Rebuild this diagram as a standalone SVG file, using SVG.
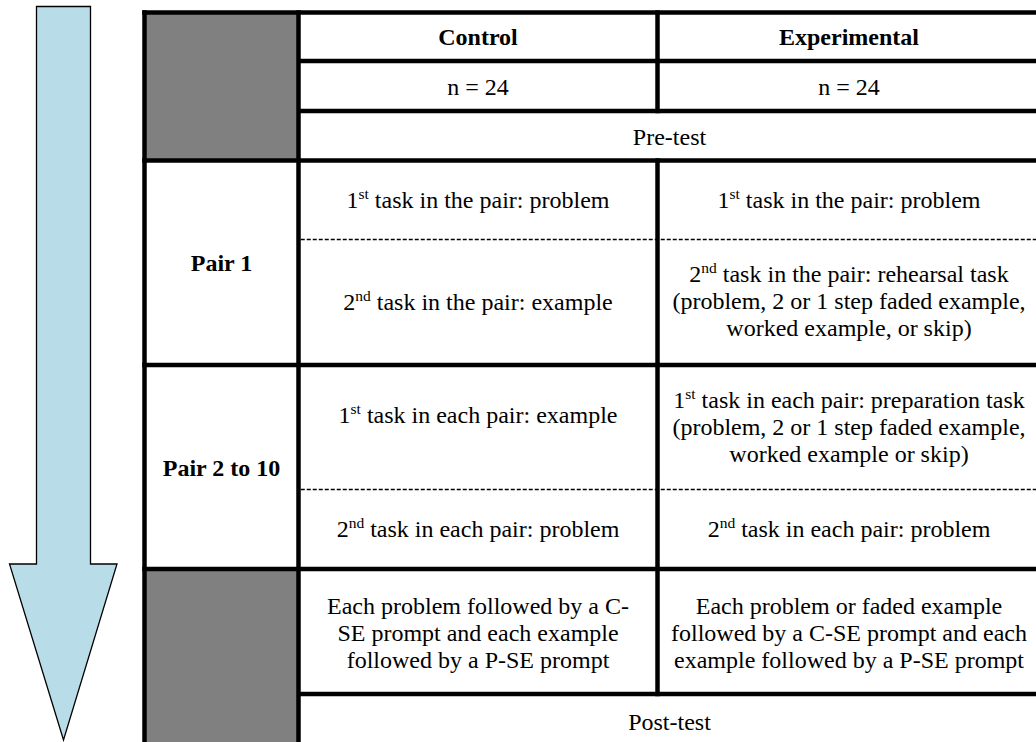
<svg xmlns="http://www.w3.org/2000/svg" width="1036" height="742" viewBox="0 0 1036 742">
  <style>
    .t { font-family: "Liberation Serif", "Times New Roman", serif; font-size: 24px; fill: #000; text-anchor: middle; }
    .b { font-weight: bold; }
    .sup { font-size: 15.5px; }
    .rule { stroke: #000; stroke-width: 4.5; fill: none; }
    .dash { stroke: #000; stroke-width: 1.3; stroke-dasharray: 4 2; fill: none; }
    .shade { fill: #808080; }
  </style>

  <rect width="1036" height="742" fill="#fff"/>

  <!-- time arrow -->
  <g id="time-arrow">
    <path d="M36.5 6.5 H90.5 V564 H117 L63.5 740 L9.5 564 H36.5 Z" fill="#b8dde8" stroke="#000" stroke-width="1.3" stroke-linejoin="miter"/>
  </g>

  <!-- shaded corner cells -->
  <g id="corner-top"><rect class="shade" x="144.5" y="12.5" width="154" height="148"/></g>
  <g id="corner-bottom"><rect class="shade" x="144.5" y="569" width="154" height="180"/></g>

  <!-- table rules -->
  <g id="connectors">
    <line class="rule" x1="142.25" y1="12.5" x2="1040" y2="12.5"/>
    <line class="rule" x1="298.5" y1="61" x2="1040" y2="61"/>
    <line class="rule" x1="298.5" y1="111" x2="1040" y2="111"/>
    <line class="rule" x1="142.25" y1="160.5" x2="1040" y2="160.5"/>
    <line class="dash" x1="300.75" y1="239.5" x2="1040" y2="239.5"/>
    <line class="rule" x1="142.25" y1="365" x2="1040" y2="365"/>
    <line class="dash" x1="300.75" y1="489.5" x2="1040" y2="489.5"/>
    <line class="rule" x1="142.25" y1="569" x2="1040" y2="569"/>
    <line class="rule" x1="298.5" y1="694" x2="1040" y2="694"/>

    <line class="rule" x1="144.5" y1="10.25" x2="144.5" y2="745"/>
    <line class="rule" x1="298.5" y1="10.25" x2="298.5" y2="745"/>
    <line class="rule" x1="657.5" y1="10.25" x2="657.5" y2="113.25"/>
    <line class="rule" x1="657.5" y1="158.25" x2="657.5" y2="696.25"/>
  </g>

  <!-- header -->
  <g id="head-control"><text class="t b" x="478" y="45">Control</text></g>
  <g id="head-experimental"><text class="t b" x="849" y="45">Experimental</text></g>
  <g id="n-control"><text class="t" x="478" y="95">n = 24</text></g>
  <g id="n-experimental"><text class="t" x="849" y="95">n = 24</text></g>
  <g id="pretest"><text class="t" x="669.5" y="145">Pre-test</text></g>

  <!-- pair 1 -->
  <g id="label-pair1"><text class="t b" x="221.5" y="271">Pair 1</text></g>
  <g id="pair1-control-1">
    <text class="t" x="478" y="208">1<tspan class="sup" dy="-9">st</tspan><tspan dy="9"> task in the pair: problem</tspan></text>
  </g>
  <g id="pair1-experimental-1">
    <text class="t" x="849" y="208">1<tspan class="sup" dy="-9">st</tspan><tspan dy="9"> task in the pair: problem</tspan></text>
  </g>
  <g id="pair1-control-2">
    <text class="t" x="478" y="310">2<tspan class="sup" dy="-9">nd</tspan><tspan dy="9"> task in the pair: example</tspan></text>
  </g>
  <g id="pair1-experimental-2">
    <text class="t" x="849" y="282">2<tspan class="sup" dy="-9">nd</tspan><tspan dy="9"> task in the pair: rehearsal task</tspan></text>
    <text class="t" x="849" y="309">(problem, 2 or 1 step faded example,</text>
    <text class="t" x="849" y="336">worked example, or skip)</text>
  </g>

  <!-- pairs 2 to 10 -->
  <g id="label-pair2to10"><text class="t b" x="221.5" y="476">Pair 2 to 10</text></g>
  <g id="pairN-control-1">
    <text class="t" x="478" y="423">1<tspan class="sup" dy="-9">st</tspan><tspan dy="9"> task in each pair: example</tspan></text>
  </g>
  <g id="pairN-experimental-1">
    <text class="t" x="849" y="408">1<tspan class="sup" dy="-9">st</tspan><tspan dy="9"> task in each pair: preparation task</tspan></text>
    <text class="t" x="849" y="435">(problem, 2 or 1 step faded example,</text>
    <text class="t" x="849" y="462">worked example or skip)</text>
  </g>
  <g id="pairN-control-2">
    <text class="t" x="478" y="537">2<tspan class="sup" dy="-9">nd</tspan><tspan dy="9"> task in each pair: problem</tspan></text>
  </g>
  <g id="pairN-experimental-2">
    <text class="t" x="849" y="537">2<tspan class="sup" dy="-9">nd</tspan><tspan dy="9"> task in each pair: problem</tspan></text>
  </g>

  <!-- prompts -->
  <g id="prompts-control">
    <text class="t" x="478" y="614">Each problem followed by a C-</text>
    <text class="t" x="478" y="641">SE prompt and each example</text>
    <text class="t" x="478" y="668">followed by a P-SE prompt</text>
  </g>
  <g id="prompts-experimental">
    <text class="t" x="849" y="614">Each problem or faded example</text>
    <text class="t" x="849" y="641">followed by a C-SE prompt and each</text>
    <text class="t" x="849" y="668">example followed by a P-SE prompt</text>
  </g>

  <g id="posttest"><text class="t" x="669.5" y="730">Post-test</text></g>
</svg>
